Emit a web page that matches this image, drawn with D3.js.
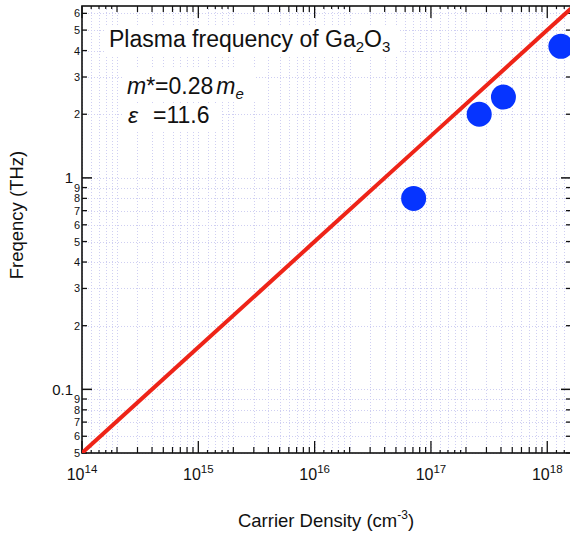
<!DOCTYPE html>
<html><head><meta charset="utf-8">
<script src="https://cdn.jsdelivr.net/npm/d3@7"></script>
<style>
body{margin:0;background:#fff;}
svg{display:block;font-family:"Liberation Sans",Arial,Helvetica,sans-serif;}
</style></head>
<body><svg id="c" width="570" height="535"></svg>
<script>
// ---- data ----
const densities = [7.1e16, 2.6e17, 4.2e17, 1.31e18];      // cm^-3
const frequencies = [0.80, 2.0, 2.41, 4.19];               // THz
const lineDensity = [1e14, 1e15, 1e16, 1e17, 1e18, 1.6e18];
const lineFreq = [0.05, 0.158, 0.50, 1.58, 5.0, 6.32];
const xDomain = [1e14, 1.6e18];
const yDomain = [0.05, 6.5];
const xMajor = [1e14, 1e15, 1e16, 1e17, 1e18];
const xMajorLabels = ["14", "15", "16", "17", "18"];
const yMajor = [0.1, 1];
const yMajorLabels = ["0.1", "1"];
const mantissaMinor = [2, 3, 4, 5, 6, 7, 8, 9];
const mantissaSub = [1.2, 1.4, 1.6, 1.8];

const svg = d3.select("#c");
const L = 82, R = 571, T = 6, B = 453;
const x = d3.scaleLog().domain(xDomain).range([L, R]);
const y = d3.scaleLog().domain(yDomain).range([B, T]);

// tick sets
const decX = d3.range(13, 19);
const xMinor = [], xSub = [];
decX.forEach(d => {
  mantissaMinor.forEach(m => { const v = m * Math.pow(10, d); if (v > xDomain[0] && v < xDomain[1]) xMinor.push(v); });
  mantissaSub.forEach(m => { const v = m * Math.pow(10, d); if (v > xDomain[0] && v < xDomain[1]) xSub.push(v); });
});
const yMinor = [];
[-2, -1, 0].forEach(d => mantissaMinor.forEach(m => { const v = m * Math.pow(10, d); if (v >= yDomain[0] && v < yDomain[1]) yMinor.push(v); }));

// grid
const grid = svg.append("g").attr("stroke", "#cfcff2").attr("stroke-width", 1).attr("stroke-dasharray", "1,2");
[...xMajor, ...xMinor, ...xSub].forEach(v => grid.append("line").attr("x1", Math.round(x(v)) + 0.5).attr("x2", Math.round(x(v)) + 0.5).attr("y1", T).attr("y2", B));
[...yMajor, ...yMinor].forEach(v => grid.append("line").attr("y1", Math.round(y(v)) + 0.5).attr("y2", Math.round(y(v)) + 0.5).attr("x1", L).attr("x2", R));

// text boxes
const boxes = svg.append("g").attr("fill", "#fff");
boxes.append("rect").attr("x", 104).attr("y", 27).attr("width", 294).attr("height", 29);
boxes.append("rect").attr("x", 122).attr("y", 68).attr("width", 134).attr("height", 32);
boxes.append("rect").attr("x", 122).attr("y", 104).attr("width", 100).attr("height", 28);

// axes (inward ticks)
const ax = svg.append("g").attr("stroke", "#111").attr("fill", "none");
function vticks(vals, len, w) {
  vals.forEach(v => {
    const px = x(v);
    ax.append("line").attr("x1", px).attr("x2", px).attr("y1", B).attr("y2", B - len).attr("stroke-width", w);
    ax.append("line").attr("x1", px).attr("x2", px).attr("y1", T).attr("y2", T + len).attr("stroke-width", w);
  });
}
function hticks(vals, len, w) {
  vals.forEach(v => {
    const py = y(v);
    ax.append("line").attr("y1", py).attr("y2", py).attr("x1", L).attr("x2", L + len).attr("stroke-width", w);
    ax.append("line").attr("y1", py).attr("y2", py).attr("x1", R).attr("x2", R - len).attr("stroke-width", w);
  });
}
vticks(xMajor, 12, 1.3);
vticks(xMinor, 6, 1.2);
vticks(xSub, 3, 1.2);
hticks(yMajor, 10, 1.5);
hticks(yMinor, 5, 1.3);
ax.append("rect").attr("x", L).attr("y", T).attr("width", R - L).attr("height", B - T).attr("stroke-width", 1.6);

// x tick labels
const xl = svg.append("g").attr("fill", "#111").attr("font-size", 16);
xMajor.forEach((v, i) => {
  const t = xl.append("text").attr("x", x(v)).attr("y", 480).attr("text-anchor", "middle");
  t.append("tspan").text("10");
  t.append("tspan").attr("font-size", 11.5).attr("dy", -7).text(xMajorLabels[i]);
});
// y tick labels
const yl = svg.append("g").attr("fill", "#111");
yMajor.forEach((v, i) => yl.append("text").attr("x", 73).attr("y", y(v)).attr("dy", "0.36em").attr("text-anchor", "end").attr("font-size", 15).text(yMajorLabels[i]));
yMinor.forEach(v => {
  const m = Math.round(v / Math.pow(10, Math.floor(Math.log10(v) + 1e-9)));
  yl.append("text").attr("x", 80).attr("y", y(v)).attr("dy", "0.36em").attr("text-anchor", "end").attr("font-size", 11).text(m);
});

// axis titles
svg.append("text").attr("x", 326).attr("y", 527).attr("text-anchor", "middle").attr("font-size", 18.5).attr("fill", "#111")
  .call(t => { t.append("tspan").text("Carrier Density (cm"); t.append("tspan").attr("font-size", 12).attr("dy", -8).text("-3"); t.append("tspan").attr("dy", 8).text(")"); });
svg.append("text").attr("transform", "translate(23,215) rotate(-90)").attr("text-anchor", "middle").attr("font-size", 18.5).attr("fill", "#111").text("Freqency (THz)");

// clip
svg.append("clipPath").attr("id", "clip").append("rect").attr("x", L).attr("y", T).attr("width", R - L).attr("height", B - T);

// theory line
const pts = lineDensity.map((d, i) => [d, lineFreq[i]]);
svg.append("path").attr("clip-path", "url(#clip)").datum(pts)
  .attr("d", d3.line().x(d => x(d[0])).y(d => y(d[1])))
  .attr("fill", "none").attr("stroke", "#ee2418").attr("stroke-width", 4);

// data points
svg.append("g").selectAll("circle").data(densities).join("circle")
  .attr("cx", d => x(d)).attr("cy", (d, i) => y(frequencies[i])).attr("r", 12.5).attr("fill", "#0634ff");

// annotations
const ann = svg.append("g").attr("fill", "#111").attr("font-size", 23);
ann.append("text").attr("x", 109).attr("y", 47)
  .call(t => { t.append("tspan").text("Plasma frequency of Ga"); t.append("tspan").attr("font-size", 15).attr("dy", 5).text("2"); t.append("tspan").attr("dy", -5).text("O"); t.append("tspan").attr("font-size", 15).attr("dy", 5).text("3"); });
ann.append("text").attr("x", 127).attr("y", 94)
  .call(t => { t.append("tspan").attr("font-style", "italic").text("m"); t.append("tspan").text("*=0.28"); t.append("tspan").attr("dx", 3).attr("font-style", "italic").text("m"); t.append("tspan").attr("font-style", "italic").attr("font-size", 15).attr("dy", 5).text("e"); });
ann.append("text").attr("x", 128).attr("y", 123)
  .call(t => { t.append("tspan").attr("font-style", "italic").text("ε"); t.append("tspan").attr("x", 153).text("=11.6"); });
</script></body></html>
